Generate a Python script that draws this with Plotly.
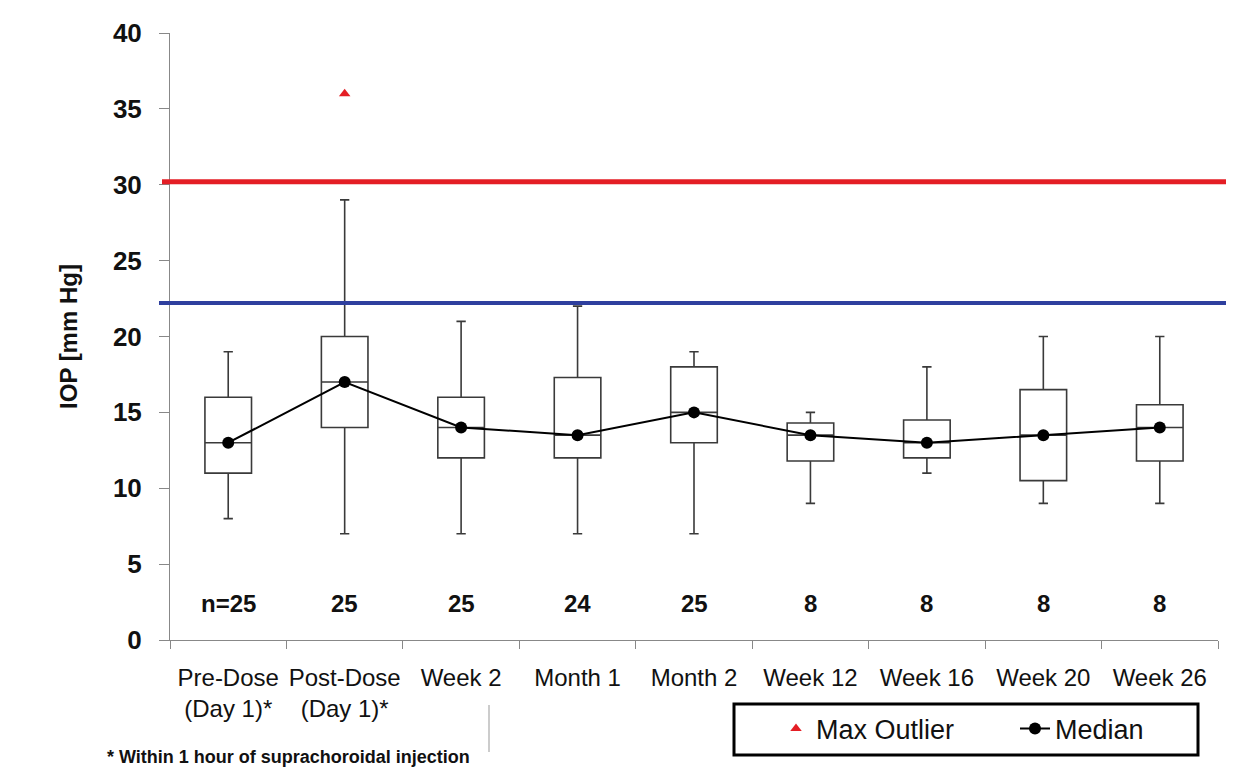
import plotly.graph_objects as go

categories = ["Pre-Dose<br>(Day 1)*", "Post-Dose<br>(Day 1)*", "Week 2", "Month 1", "Month 2",
              "Week 12", "Week 16", "Week 20", "Week 26"]
n_labels = ["n=25", "25", "25", "24", "25", "8", "8", "8", "8"]
q1 = [11, 14, 12, 12, 13, 11.8, 12, 10.5, 11.8]
median = [13, 17, 14, 13.5, 15, 13.5, 13, 13.5, 14]
q3 = [16, 20, 16, 17.3, 18, 14.3, 14.5, 16.5, 15.5]
lower = [8, 7, 7, 7, 7, 9, 11, 9, 9]
upper = [19, 29, 21, 22, 19, 15, 18, 20, 20]
outlier_cat = ["Post-Dose<br>(Day 1)*"]
outlier_val = [36]
red_limit = 30.2
blue_limit = 22.2

font = "Liberation Sans, Arial, sans-serif"

W, H = 1250, 781
OFF = 8  # page body margin
# target plot area in screen pixels: x 170..1218, y 33..640
L, T = 170 - OFF, 33 - OFF
R = W - (1218 - OFF)
B = H - (640 - OFF)
PW, PH = W - L - R, H - T - B


def px(xs):
    return (xs - OFF - L) / PW


def py(ys):
    return (H - B - (ys - OFF)) / PH


fig = go.Figure()
fig.add_trace(go.Box(
    x=categories, q1=q1, median=median, q3=q3, lowerfence=lower, upperfence=upper,
    fillcolor="white", line=dict(color="#3a3a3a", width=1.6), whiskerwidth=0.2,
    width=0.4, showlegend=False, boxpoints=False,
))
fig.add_trace(go.Scatter(
    x=outlier_cat, y=outlier_val, mode="markers", name="Max Outlier",
    marker=dict(symbol="triangle-up", color="#e41e25", size=10),
))
fig.add_trace(go.Scatter(
    x=categories, y=median, mode="lines+markers", name="Median",
    line=dict(color="black", width=2), marker=dict(color="black", size=12),
))

for c, t in zip(categories, n_labels):
    fig.add_annotation(x=c, y=2.4, text=f"<b>{t}</b>", showarrow=False,
                       font=dict(family=font, size=24, color="#111"))

fig.add_shape(type="line", xref="paper", yref="y", x0=px(162), x1=px(1226), y0=red_limit, y1=red_limit,
              line=dict(color="#e41e25", width=5))
fig.add_shape(type="line", xref="paper", yref="y", x0=px(159), x1=px(1226), y0=blue_limit, y1=blue_limit,
              line=dict(color="#2e3f9e", width=4))
# thin gray separator line under Post-Dose label
fig.add_shape(type="line", xref="paper", yref="paper", x0=px(489), x1=px(489),
              y0=py(705), y1=py(752), line=dict(color="#999", width=1))
# legend frame
fig.add_shape(type="rect", xref="paper", yref="paper", x0=px(734), x1=px(1198),
              y0=py(704), y1=py(755), line=dict(color="black", width=3), fillcolor="white", layer="below")

fig.add_annotation(xref="paper", yref="paper", x=px(105), y=py(757),
                   xanchor="left", yanchor="middle", showarrow=False,
                   text="<b>* Within 1 hour of suprachoroidal injection</b>",
                   font=dict(family=font, size=18, color="#111"))

fig.update_layout(
    width=W, height=H,
    margin=dict(l=L, r=R, t=T, b=B, autoexpand=False),
    plot_bgcolor="white", paper_bgcolor="white",
    font=dict(family=font, color="#111"),
    legend=dict(orientation="h", x=px(776), y=py(729),
                xanchor="left", yanchor="middle", borderwidth=0,
                font=dict(family=font, size=27), entrywidth=194, bgcolor="rgba(0,0,0,0)"),
    xaxis=dict(type="category", tickson="boundaries", ticks="outside", ticklen=8,
               tickcolor="#888", showline=True, linecolor="#888", linewidth=1, tickangle=0,
               ticklabelstandoff=16,
               showgrid=False, tickfont=dict(family=font, size=24, color="#111"),
               range=[-0.5, 8.5]),
    yaxis=dict(range=[0, 40], dtick=5, ticks="outside", ticklen=10, tickcolor="#888",
               showline=True, linecolor="#888", linewidth=1, showgrid=False, zeroline=False,
               ticklabelstandoff=12,
               tickfont=dict(family=font, size=26, color="#111", weight="bold"),
               title=dict(text="<b>IOP [mm Hg]</b>", font=dict(family=font, size=24), standoff=28)),
)

fig.write_html("out.html")
